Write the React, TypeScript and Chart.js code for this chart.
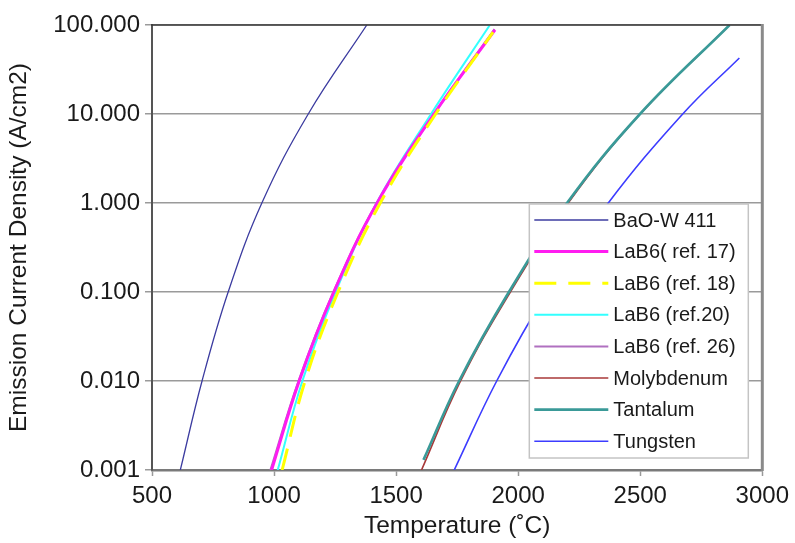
import React, { useEffect, useRef } from 'react';
import { Chart, registerables } from 'chart.js';

Chart.register(...registerables);

// ---- Data ----
const Y_TICKS = [0.001, 0.01, 0.1, 1, 10, 100];
const X_MIN = 500;
const X_MAX = 3000;
const X_STEP = 500;

const SERIES_LABELS = [
  'BaO-W 411',
  'LaB6( ref. 17)',
  'LaB6 (ref. 18)',
  'LaB6 (ref.20)',
  'LaB6 (ref. 26)',
  'Molybdenum',
  'Tantalum',
  'Tungsten',
];

// Temperatures (°C) and emission current densities (A/cm2)
const baoT = [616, 705, 812, 950, 1140, 1380];
const baoJ = [0.001, 0.01, 0.1, 1, 10, 100];

const lab17T = [990, 1103, 1245, 1422, 1655, 1905];
const lab17J = [0.001, 0.01, 0.1, 1, 10, 88];

const lab18T = [1033, 1127, 1262, 1435, 1662, 1897];
const lab18J = [0.001, 0.01, 0.1, 1, 10, 83];

const lab20T = [1015, 1116, 1252, 1420, 1643, 1884];
const lab20J = [0.001, 0.01, 0.1, 1, 10, 100];

const lab26T = [985, 1100, 1243, 1421, 1655, 1903];
const lab26J = [0.001, 0.01, 0.1, 1, 10, 90];

const moT = [1604, 1764, 1968, 2205, 2500, 2866];
const moJ = [0.001, 0.01, 0.1, 1, 10, 100];

const taT = [1612, 1758, 1962, 2200, 2499, 2866];
const taJ = [0.0013, 0.01, 0.1, 1, 10, 100];

const wT = [1738, 1912, 2119, 2369, 2674, 2906];
const wJ = [0.001, 0.01, 0.1, 1, 10, 42.6];

const FONT = '"Liberation Sans", Arial, Helvetica, sans-serif';

const pts = (t: number[], j: number[]) => t.map((x, i) => ({ x, y: j[i] }));

const legendPlugin = {
  id: 'boxLegend',
  afterDatasetsDraw(chart: any) {
    const { ctx, chartArea } = chart;
    const w = 219;
    const h = 254;
    const right = chartArea.right - 14;
    const bottom = chartArea.bottom - 12;
    const left = right - w;
    const top = bottom - h;
    ctx.save();
    ctx.fillStyle = '#ffffff';
    ctx.fillRect(left, top, w, h);
    ctx.strokeStyle = '#c4c4c4';
    ctx.lineWidth = 1.5;
    ctx.strokeRect(left, top, w, h);
    const rowH = 31.6;
    chart.data.datasets.forEach((ds: any, i: number) => {
      const y = top + 16 + i * rowH;
      ctx.beginPath();
      ctx.strokeStyle = ds.borderColor;
      ctx.lineWidth = ds.borderWidth;
      ctx.setLineDash(ds.borderDash || []);
      ctx.moveTo(left + 5, y);
      ctx.lineTo(left + 79, y);
      ctx.stroke();
      ctx.setLineDash([]);
      ctx.fillStyle = '#1a1a1a';
      ctx.font = `20px ${FONT}`;
      ctx.textBaseline = 'middle';
      ctx.textAlign = 'left';
      ctx.fillText(ds.label, left + 84, y + 1);
    });
    ctx.restore();
  },
};

const framePlugin = {
  id: 'frame',
  afterDraw(chart: any) {
    const { ctx, chartArea } = chart;
    ctx.save();
    ctx.strokeStyle = '#3a3a3a';
    ctx.lineWidth = 1.5;
    ctx.beginPath();
    ctx.moveTo(chartArea.left - 1, chartArea.top);
    ctx.lineTo(chartArea.right, chartArea.top);
    ctx.stroke();
    ctx.strokeStyle = '#8a8a8a';
    ctx.lineWidth = 3;
    ctx.beginPath();
    ctx.moveTo(chartArea.right, chartArea.top - 1);
    ctx.lineTo(chartArea.right, chartArea.bottom + 1);
    ctx.stroke();
    ctx.restore();
  },
};

export default function App() {
  const ref = useRef<HTMLCanvasElement | null>(null);

  useEffect(() => {
    if (!ref.current) return;
    const mk = (
      i: number,
      t: number[],
      j: number[],
      color: string,
      width: number,
      order: number,
      dash?: number[]
    ) => ({
      label: SERIES_LABELS[i],
      data: pts(t, j),
      borderColor: color,
      backgroundColor: color,
      borderWidth: width,
      borderDash: dash,
      pointRadius: 0,
      fill: false,
      tension: 0.4,
      order,
    });

    const chart = new Chart(ref.current, {
      type: 'line',
      data: {
        datasets: [
          mk(0, baoT, baoJ, '#3c3ca0', 1.3, 5),
          mk(1, lab17T, lab17J, '#ff1cf0', 3, 3),
          mk(2, lab18T, lab18J, '#ffff00', 3, 1, [22, 12]),
          mk(3, lab20T, lab20J, '#33ffff', 2, 4),
          mk(4, lab26T, lab26J, '#b070c0', 2, 6),
          mk(5, moT, moJ, '#a83838', 1.6, 7),
          mk(6, taT, taJ, '#3a9a98', 2.6, 2),
          mk(7, wT, wJ, '#3c3cff', 1.6, 5),
        ],
      },
      options: {
        animation: false,
        responsive: false,
        devicePixelRatio: 1,
        layout: { padding: { left: 0, top: 25, right: 29, bottom: 0 } },
        plugins: {
          legend: { display: false },
          tooltip: { enabled: false },
        },
        scales: {
          x: {
            type: 'linear',
            min: X_MIN,
            max: X_MAX,
            ticks: {
              stepSize: X_STEP,
              color: '#1a1a1a',
              font: { family: FONT, size: 24 },
              padding: 6,
              maxRotation: 0,
              callback: (v: any) => String(v),
            },
            grid: {
              drawOnChartArea: false,
              drawTicks: true,
              tickLength: 6,
              tickColor: '#999999',
              tickWidth: 1.5,
            },
            border: { color: '#7a7a7a', width: 2.5 },
            title: {
              display: true,
              text: 'Temperature (˚C)',
              color: '#1a1a1a',
              font: { family: FONT, size: 24.5 },
              padding: { top: 0, bottom: 2 },
            },
            afterFit: (s: any) => {
              s.height = 73;
            },
          },
          y: {
            type: 'logarithmic',
            min: Y_TICKS[0],
            max: Y_TICKS[Y_TICKS.length - 1],
            afterBuildTicks: (s: any) => {
              s.ticks = Y_TICKS.map((v) => ({ value: v }));
            },
            ticks: {
              color: '#1a1a1a',
              font: { family: FONT, size: 24 },
              padding: 5,
              callback: (v: any) => Number(v).toFixed(3),
            },
            grid: {
              color: '#9a9a9a',
              lineWidth: 1.5,
              drawTicks: true,
              tickLength: 7,
              tickColor: '#9a9a9a',
            },
            border: { color: '#555555', width: 2 },
            title: {
              display: true,
              text: 'Emission Current Density (A/cm2)',
              color: '#1a1a1a',
              font: { family: FONT, size: 24.5 },
              padding: { top: 5, bottom: 0 },
            },
            afterFit: (s: any) => {
              s.width = 152;
            },
          },
        },
      },
      plugins: [legendPlugin, framePlugin],
    });
    return () => chart.destroy();
  }, []);

  return (
    <div style={{ position: 'fixed', left: 0, top: 0, width: 795, height: 543, background: '#fff' }}>
      <canvas ref={ref} width={795} height={543} style={{ width: 795, height: 543, display: 'block' }} />
    </div>
  );
}
